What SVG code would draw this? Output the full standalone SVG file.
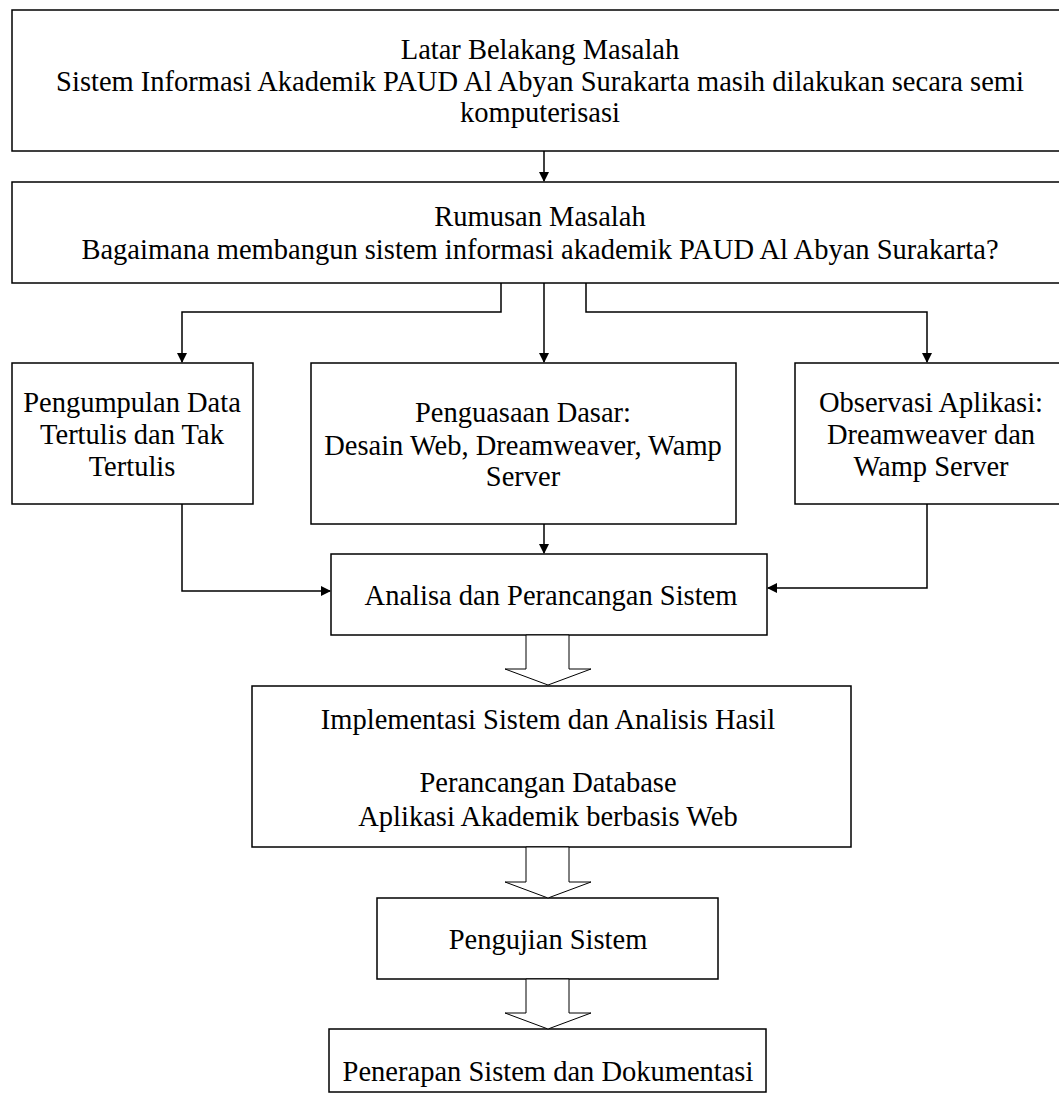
<svg xmlns="http://www.w3.org/2000/svg" width="1059" height="1102" viewBox="0 0 1059 1102">
<defs>
<style>
.box{fill:#fff;stroke:#000;stroke-width:1.5}
.t{font-family:"Liberation Serif","Times New Roman",serif;font-size:28.5px;fill:#000;text-anchor:middle}
.ln{fill:none;stroke:#000;stroke-width:1.5}
.blk{fill:#fff;stroke:#000;stroke-width:1}
</style>
<marker id="ah" markerWidth="10" markerHeight="10" refX="9" refY="5" orient="auto" markerUnits="userSpaceOnUse">
<path d="M0,0 L10,5 L0,10 z" fill="#000"/>
</marker>
</defs>
<rect width="1059" height="1102" fill="#fff"/>
<g id="latar">
<rect class="box" x="12" y="10" width="1060" height="141"/>
<text class="t" x="540" y="59">Latar Belakang Masalah</text>
<text class="t" x="540" y="91">Sistem Informasi Akademik PAUD Al Abyan Surakarta masih dilakukan secara semi</text>
<text class="t" x="540" y="122">komputerisasi</text>
</g>
<g id="rumusan">
<rect class="box" x="12" y="182" width="1060" height="101"/>
<text class="t" x="540" y="226">Rumusan Masalah</text>
<text class="t" x="540" y="259">Bagaimana membangun sistem informasi akademik PAUD Al Abyan Surakarta?</text>
</g>
<g id="pengumpulan">
<rect class="box" x="12" y="363" width="241" height="141"/>
<text class="t" x="132" y="412">Pengumpulan Data</text>
<text class="t" x="132" y="444">Tertulis dan Tak</text>
<text class="t" x="132" y="476">Tertulis</text>
</g>
<g id="penguasaan">
<rect class="box" x="311" y="363" width="425" height="161"/>
<text class="t" x="523" y="422">Penguasaan Dasar:</text>
<text class="t" x="523" y="455">Desain Web, Dreamweaver, Wamp</text>
<text class="t" x="523" y="486">Server</text>
</g>
<g id="observasi">
<rect class="box" x="795" y="363" width="280" height="141"/>
<text class="t" x="931" y="412">Observasi Aplikasi:</text>
<text class="t" x="931" y="444">Dreamweaver dan</text>
<text class="t" x="931" y="476">Wamp Server</text>
</g>
<g id="analisa">
<rect class="box" x="331" y="554" width="436" height="81"/>
<text class="t" x="551" y="605">Analisa dan Perancangan Sistem</text>
</g>
<g id="implementasi">
<rect class="box" x="252" y="686" width="599" height="161"/>
<text class="t" x="548" y="729">Implementasi Sistem dan Analisis Hasil</text>
<text class="t" x="548" y="792">Perancangan Database</text>
<text class="t" x="548" y="826">Aplikasi Akademik berbasis Web</text>
</g>
<g id="pengujian">
<rect class="box" x="377" y="898" width="341" height="81"/>
<text class="t" x="548" y="949">Pengujian Sistem</text>
</g>
<g id="penerapan">
<rect class="box" x="329" y="1029" width="437" height="63"/>
<text class="t" x="548" y="1081">Penerapan Sistem dan Dokumentasi</text>
</g>
<g id="connectors">
<line class="ln" x1="544" y1="151" x2="544" y2="181" marker-end="url(#ah)"/>
<line class="ln" x1="544" y1="283" x2="544" y2="362" marker-end="url(#ah)"/>
<polyline class="ln" points="501,283 501,312 182,312 182,362" marker-end="url(#ah)"/>
<polyline class="ln" points="586,283 586,312 927,312 927,362" marker-end="url(#ah)"/>
<line class="ln" x1="544" y1="524" x2="544" y2="553" marker-end="url(#ah)"/>
<polyline class="ln" points="182,504 182,591 330,591" marker-end="url(#ah)"/>
<polyline class="ln" points="927,504 927,588 768,588" marker-end="url(#ah)"/>
<polygon class="blk" points="526,635 569,635 569,669 591,669 548,685 505,669 526,669"/>
<polygon class="blk" points="526,847 569,847 569,882 591,882 548,898 505,882 526,882"/>
<polygon class="blk" points="526,979 569,979 569,1013 591,1013 548,1029 505,1013 526,1013"/>
</g>
</svg>
